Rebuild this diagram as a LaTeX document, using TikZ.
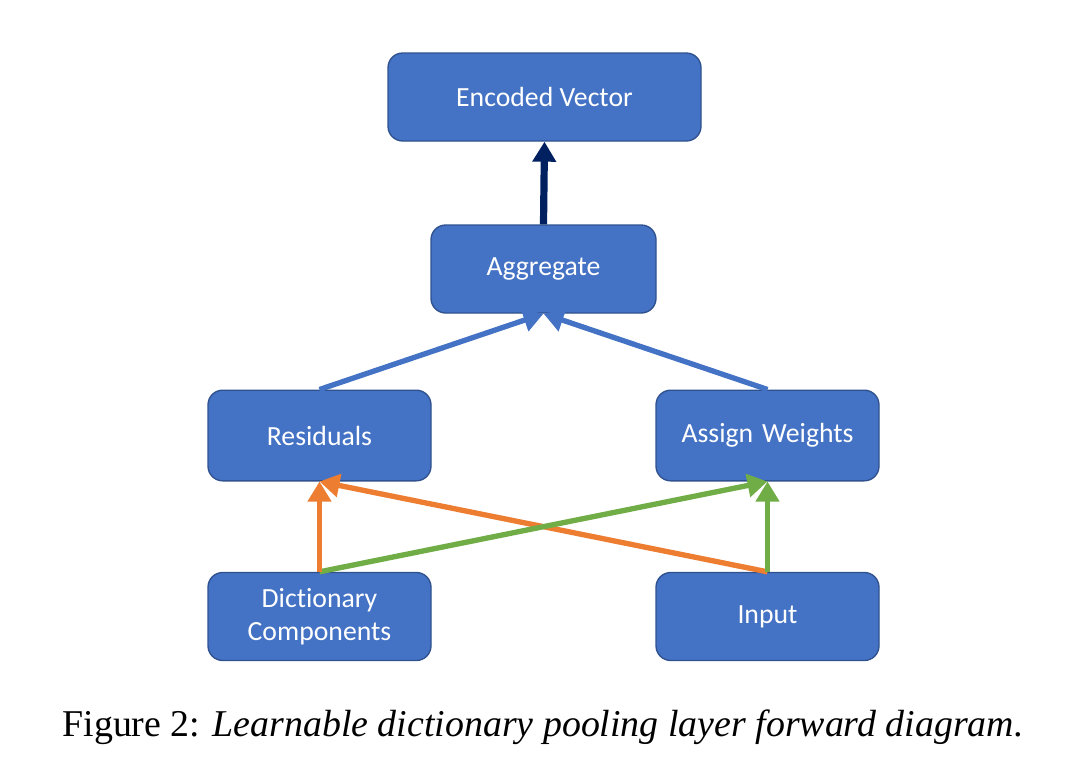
\documentclass[tikz,border=0pt]{standalone}
\usepackage{fontspec}
\setmainfont{Liberation Serif}
\newfontfamily\boxfont{Carlito}[Ligatures=NoCommon]
\usetikzlibrary{arrows.meta}
\definecolor{boxblue}{HTML}{4472C4}
\definecolor{boxline}{HTML}{2F528F}
\definecolor{navy}{HTML}{002060}
\definecolor{orng}{HTML}{ED7D31}
\definecolor{grn}{HTML}{70AD47}
\tikzset{
  block/.style={draw=boxline, line width=1pt, fill=boxblue, rounded corners=11pt,
    text=white, align=center, minimum height=66pt,
    font=\boxfont\fontsize{20.8}{25}\selectfont},
  link/.style={line width=4pt, -{Triangle[length=15pt, width=17pt]}}
}
\begin{document}
\begin{tikzpicture}[x=0.75pt, y=-0.75pt]
    \useasboundingbox (0, 0) rectangle (1083, 768);

    \node[block, minimum width=234.75pt] (enc) at (544.5, 97) {Encoded Vector};
    \node[block, minimum width=168.75pt] (agg) at (543.5, 269) {Aggregate};
    \node[block, minimum width=167.25pt, minimum height=68pt] (resid) at (319.5, 435.5) {Residuals};
    \node[block, minimum width=167.25pt, minimum height=68pt] (weights) at (767.5, 435.5) {Assign\hspace{2pt} Weights};
    \node[block, minimum width=167.25pt] (dict) at (319.5, 616.5) {Dictionary\\Components};
    \node[block, minimum width=167.25pt] (input) at (767.5, 616.5) {Input};

    \draw[link, navy, line width=5.4pt] (agg.north) -- (enc.south);

    \draw[link, boxblue] (resid.north) -- (agg.south);
    \draw[link, boxblue] (weights.north) -- (agg.south);

    \draw[link, orng] (input.north) -- (resid.south);
    \draw[link, grn] (dict.north) -- (weights.south);
    \draw[link, orng] (dict.north) -- (resid.south);
    \draw[link, grn] (input.north) -- (weights.south);

    \node (caption) at (543, 727) {\fontsize{28.4}{32}\selectfont Figure 2: \textit{Learnable dictionary pooling layer forward diagram.}};
\end{tikzpicture}
\end{document}
